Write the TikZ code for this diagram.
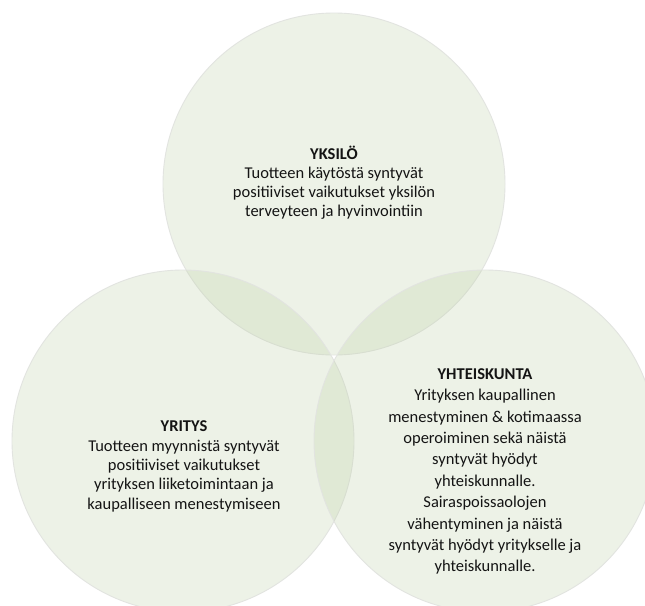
\documentclass[tikz,border=0pt]{standalone}
\usepackage{fontspec}
\setmainfont{Carlito}
\definecolor{vennfill}{RGB}{187,207,163}
\definecolor{vennedge}{RGB}{226,228,224}
\begin{document}
\begin{tikzpicture}[x=1pt,y=-1pt,
  venn/.style={draw=vennedge,line width=0.9pt,fill=vennfill,fill opacity=0.25,draw opacity=1},
  lbl/.style={align=center,text=black!92,inner sep=0pt}]
\useasboundingbox (0,0) rectangle (645,605);
\fill[white] (0,0) rectangle (645,605);
\path[venn] (334,184) circle[radius=171];
\path[venn] (183,441) circle[radius=171];
\path[venn] (485,441) circle[radius=171];
\node[lbl,font=\fontsize{16.5}{18.8}\selectfont] (yksilo) at (334,182.5)
  {\textbf{YKSILÖ}\\Tuotteen käytöstä syntyvät\\positiiviset vaikutukset yksilön\\terveyteen ja hyvinvointiin};
\node[lbl,font=\fontsize{16.5}{19.4}\selectfont] (yritys) at (184,466.5)
  {\textbf{YRITYS}\\Tuotteen myynnistä syntyvät\\positiiviset vaikutukset\\yrityksen liiketoimintaan ja\\kaupalliseen menestymiseen};
\node[lbl,font=\fontsize{16.5}{21.4}\selectfont] (yhteiskunta) at (485,471.5)
  {\textbf{YHTEISKUNTA}\\Yrityksen kaupallinen\\menestyminen \& kotimaassa\\operoiminen sekä näistä\\syntyvät hyödyt\\yhteiskunnalle.\\Sairaspoissaolojen\\vähentyminen ja näistä\\syntyvät hyödyt yritykselle ja\\yhteiskunnalle.};
\end{tikzpicture}
\end{document}
